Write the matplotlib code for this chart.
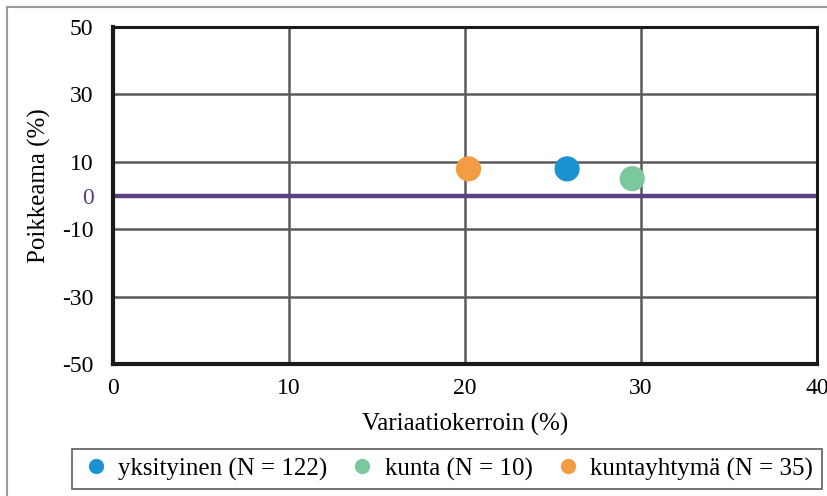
import matplotlib
matplotlib.use('Agg')
from matplotlib import pyplot as plt
from matplotlib.patches import Rectangle
from matplotlib.lines import Line2D

# data
groups = ['yksityinen (N = 122)', 'kunta (N = 10)', 'kuntayhtymä (N = 35)']
variaatio = [25.8, 29.5, 20.2]
poikkeama = [7.9, 5.0, 7.9]
colors = ['#1a93d0', '#7bc89d', '#f29c44']
y_ticks = [-50, -30, -10, 10, 30, 50]
x_ticks = [0, 10, 20, 30, 40]

plt.rcParams['font.family'] = ['Liberation Serif', 'DejaVu Serif']

W, H = 828, 496
fig = plt.figure(figsize=(W / 100, H / 100), dpi=100)
ax = fig.add_axes([113 / W, 1 - 364 / H, (817 - 113) / W, (364 - 27) / H])

# outer frame
fig.patches.append(Rectangle((7 / W, -0.1), 1.2, (H - 7) / H + 0.1,
                             transform=fig.transFigure, fill=False,
                             edgecolor='#9a9a9a', linewidth=1.5))

for v in [10, 30, -10, -30]:
    ax.axhline(v, color='#5a5a5a', linewidth=1.8, zorder=1)
for v in [10, 20, 30]:
    ax.axvline(v, color='#5a5a5a', linewidth=1.8, zorder=1)
ax.axhline(0, color='#5e3f86', linewidth=3.2, zorder=2)

for x, y, c, lab in zip(variaatio, poikkeama, colors, groups):
    ax.scatter(x, y, s=330, color=c, edgecolors='none', zorder=3, label=lab)

ax.set_xlim(0, 40)
ax.set_ylim(-50, 50)
ax.set_xticks(x_ticks)
ax.set_yticks(y_ticks + [0])
ax.set_yticklabels([str(t) for t in y_ticks] + ['0'])
ax.get_yticklabels()[-1].set_color('#5e3f86')
ax.tick_params(length=0, labelsize=17)
ax.tick_params(axis='y', pad=14)
ax.tick_params(axis='x', pad=10)

for s in ['left', 'bottom']:
    ax.spines[s].set_linewidth(3)
for s in ['top', 'right']:
    ax.spines[s].set_linewidth(2.2)
for s in ax.spines.values():
    s.set_color('#1a1a1a')

ax.set_xlabel('Variaatiokerroin (%)', fontsize=18, labelpad=10)
ax.set_ylabel('Poikkeama (%)', fontsize=18)
ax.yaxis.set_label_coords(-62 / 704, 0.53)

handles = [Line2D([0], [0], marker='o', linestyle='none', markersize=11,
                  markerfacecolor=c, markeredgecolor='none') for c in colors]
leg = fig.legend(handles, groups, loc='center', ncol=3,
                 bbox_to_anchor=(447 / W, 1 - 469 / H), fontsize=18,
                 frameon=True, fancybox=False, handletextpad=0.3,
                 columnspacing=0.8, borderpad=0.35, handlelength=1.2)
leg.get_frame().set_edgecolor('#333333')
leg.get_frame().set_linewidth(1.2)

plt.savefig('out.png', dpi=100)
plt.close()
